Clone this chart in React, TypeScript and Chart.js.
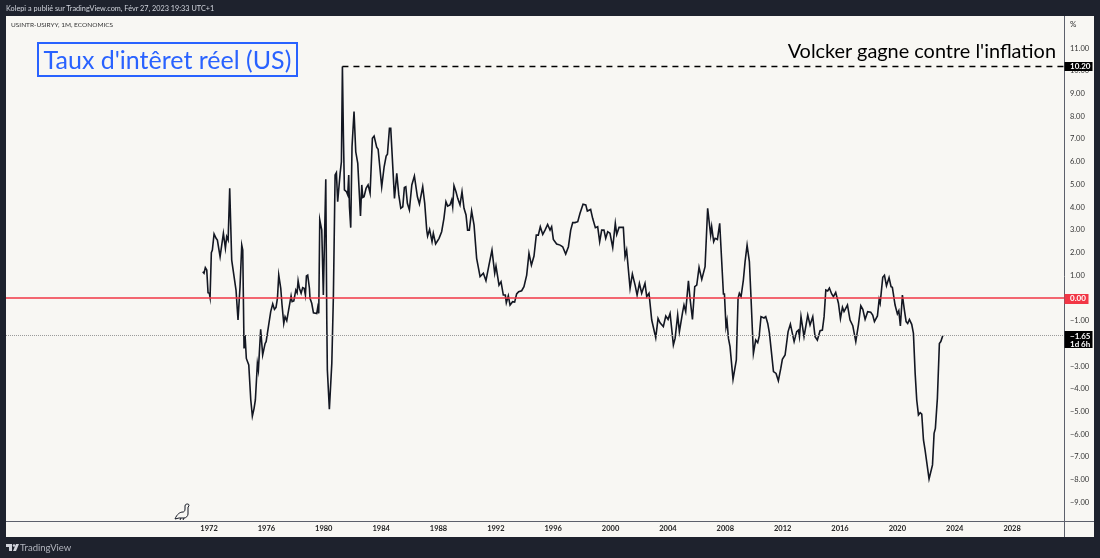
import { useRef, useEffect } from "react";
import Chart from "chart.js/auto";

const years = [
  1971.56, 1971.65, 1971.74, 1971.84, 1971.93, 1972.02, 1972.07, 1972.16, 1972.23, 1972.35, 1972.49, 1972.58, 1972.77, 1973.0, 1973.14, 1973.23, 1973.33, 1973.44, 1973.58, 1973.88,
  1974.02, 1974.16, 1974.28, 1974.35, 1974.44, 1974.51, 1974.6, 1974.77, 1974.91, 1975.02, 1975.14, 1975.23, 1975.37, 1975.44, 1975.6, 1975.74, 1975.91, 1975.98, 1976.14, 1976.3,
  1976.44, 1976.56, 1976.67, 1976.77, 1976.86, 1977.0, 1977.09, 1977.21, 1977.3, 1977.42, 1977.72, 1977.79, 1977.91, 1978.05, 1978.14, 1978.21, 1978.3, 1978.42, 1978.53, 1978.63,
  1978.72, 1978.79, 1978.88, 1979.0, 1979.04, 1979.16, 1979.28, 1979.51, 1979.58, 1979.65, 1979.72, 1979.86, 1979.97, 1980.14, 1980.21, 1980.25, 1980.39, 1980.56, 1980.67, 1980.79,
  1980.88, 1980.97, 1981.14, 1981.23, 1981.3, 1981.37, 1981.44, 1981.58, 1981.67, 1981.74, 1981.79, 1981.88, 1981.97, 1982.11, 1982.23, 1982.37, 1982.56, 1982.65, 1982.72, 1982.81,
  1982.95, 1983.09, 1983.23, 1983.39, 1983.51, 1983.69, 1983.79, 1984.04, 1984.21, 1984.35, 1984.44, 1984.58, 1984.67, 1984.93, 1985.09, 1985.23, 1985.37, 1985.51, 1985.62, 1985.72,
  1985.83, 1985.97, 1986.14, 1986.32, 1986.53, 1986.67, 1986.9, 1987.04, 1987.18, 1987.24, 1987.38, 1987.55, 1987.64, 1987.8, 1988.04, 1988.22, 1988.38, 1988.52, 1988.64, 1988.8,
  1988.92, 1988.99, 1989.08, 1989.22, 1989.34, 1989.5, 1989.64, 1989.78, 1989.92, 1990.03, 1990.15, 1990.31, 1990.48, 1990.66, 1990.9, 1991.13, 1991.31, 1991.52, 1991.73, 1991.92,
  1992.01, 1992.22, 1992.36, 1992.52, 1992.66, 1992.73, 1992.87, 1992.99, 1993.17, 1993.31, 1993.45, 1993.59, 1993.8, 1993.96, 1994.15, 1994.31, 1994.48, 1994.66, 1994.82, 1994.96,
  1995.1, 1995.27, 1995.43, 1995.61, 1995.78, 1995.89, 1996.01, 1996.24, 1996.48, 1996.66, 1996.87, 1997.06, 1997.22, 1997.36, 1997.52, 1997.71, 1997.87, 1998.08, 1998.27, 1998.38,
  1998.61, 1998.75, 1998.94, 1999.1, 1999.24, 1999.38, 1999.54, 1999.66, 1999.8, 1999.96, 2000.15, 2000.33, 2000.43, 2000.59, 2000.89, 2001.01, 2001.12, 2001.36, 2001.52, 2001.71,
  2001.85, 2002.01, 2002.17, 2002.4, 2002.52, 2002.68, 2002.87, 2003.15, 2003.31, 2003.45, 2003.68, 2003.85, 2004.01, 2004.15, 2004.38, 2004.5, 2004.68, 2004.8, 2005.03, 2005.12,
  2005.24, 2005.43, 2005.54, 2005.71, 2005.87, 2006.01, 2006.17, 2006.36, 2006.59, 2006.77, 2006.98, 2007.05, 2007.19, 2007.29, 2007.45, 2007.61, 2007.87, 2007.94, 2008.05, 2008.12,
  2008.22, 2008.33, 2008.54, 2008.77, 2008.89, 2008.98, 2009.1, 2009.26, 2009.38, 2009.52, 2009.68, 2009.77, 2009.96, 2010.12, 2010.26, 2010.36, 2010.49, 2010.7, 2010.82, 2010.96,
  2011.08, 2011.36, 2011.54, 2011.7, 2011.87, 2011.98, 2012.17, 2012.38, 2012.54, 2012.8, 2012.98, 2013.1, 2013.17, 2013.28, 2013.49, 2013.75, 2013.91, 2014.1, 2014.26, 2014.42,
  2014.61, 2014.77, 2014.89, 2015.01, 2015.14, 2015.26, 2015.42, 2015.54, 2015.7, 2015.89, 2016.03, 2016.17, 2016.28, 2016.52, 2016.7, 2016.89, 2017.1, 2017.28, 2017.45, 2017.59,
  2017.75, 2017.93, 2018.14, 2018.28, 2018.4, 2018.61, 2018.73, 2018.8, 2018.98, 2019.1, 2019.24, 2019.42, 2019.56, 2019.65, 2019.84, 2020.0, 2020.1, 2020.21, 2020.35, 2020.49,
  2020.61, 2020.72, 2020.84, 2021.0, 2021.12, 2021.24, 2021.35, 2021.47, 2021.59, 2021.7, 2021.82, 2021.93, 2022.21, 2022.45, 2022.56, 2022.65, 2022.79, 2022.93, 2023.03, 2023.17,
];
const rates = [
  1.16, 1.09, 1.34, 1.23, 0.23, 0.21, 0.03, 2.0, 2.11, 2.82, 2.63, 2.55, 1.82, 2.85, 2.19, 2.7, 2.55, 4.83, 1.67, 0.35,
  -0.97, 0.5, 2.33, 2.11, -2.22, -1.63, -2.66, -2.95, -4.49, -5.2, -4.86, -4.49, -2.88, -3.17, -1.38, -2.51, -2.0, -1.92, -1.26, -0.6,
  -0.26, -0.5, -0.41, -0.01, 1.01, 0.43, -0.31, -1.12, -0.82, -1.0, 0.09, -0.16, -0.13, 0.35, 0.23, 0.76, 0.43, 0.21, 0.46, 0.43,
  0.13, 0.97, 1.01, 0.43, -0.01, -0.23, -0.65, -0.68, -0.41, -0.68, 3.44, 2.99, 0.13, 5.23, -0.97, -3.17, -4.9, -2.88, 0.06, 5.42,
  5.52, 4.24, 5.49, 6.0, 10.2, 7.11, 4.76, 4.68, 4.54, 5.42, 4.02, 3.1, 6.66, 8.21, 6.44, 5.93, 3.61, 4.98, 4.43, 4.46,
  4.83, 4.98, 4.61, 7.03, 7.13, 6.64, 6.55, 4.9, 5.78, 6.25, 6.33, 7.47, 7.47, 4.39, 5.49, 4.54, 3.95, 4.02, 4.87, 4.9,
  4.17, 3.88, 4.98, 5.37, 4.46, 4.14, 4.9, 4.17, 2.99, 2.73, 3.02, 2.48, 2.85, 2.38, 2.63, 2.92, 3.51, 4.24, 4.05, 4.1,
  4.32, 4.02, 4.95, 4.68, 4.39, 4.1, 4.68, 3.95, 3.66, 2.99, 2.99, 3.83, 3.21, 1.75, 0.94, 1.09, 0.76, 1.45, 2.11, 1.09,
  1.41, 0.57, 0.72, 0.13, 0.13, -0.21, 0.1, -0.31, -0.16, -0.18, 0.18, 0.28, 0.32, 0.5, 1.01, 1.97, 1.45, 1.85, 2.77, 2.77,
  3.14, 2.8, 2.99, 3.24, 2.99, 3.14, 2.58, 2.38, 2.33, 2.26, 1.94, 2.26, 2.99, 3.32, 3.32, 3.36, 3.73, 4.13, 4.1, 3.83,
  3.9, 3.51, 3.1, 3.14, 2.48, 2.99, 2.99, 2.63, 2.92, 2.85, 2.22, 3.29, 2.8, 3.11, 3.11, 1.82, 2.11, 0.43, 1.06, 0.57,
  0.13, 0.65, 0.21, 0.65, 0.06, 0.21, -0.97, -1.75, -0.9, -1.09, -1.26, -0.79, -0.94, -0.68, -2.07, -1.78, -0.75, -1.48, -0.6, -0.31,
  -0.6, 0.76, -0.01, -0.94, 0.5, 0.57, 1.35, 0.82, 1.38, 3.95, 2.77, 3.14, 2.48, 2.63, 2.58, 3.29, 0.18, 0.18, -1.26, -1.0,
  -1.78, -2.14, -3.58, -2.73, -0.01, 0.21, 0.06, 0.79, 1.6, 2.33, 1.6, 0.35, -2.44, -1.85, -1.97, -1.7, -0.82, -0.88, -0.82, -1.12,
  -1.56, -3.24, -3.32, -3.64, -3.1, -2.7, -2.51, -1.48, -1.15, -1.92, -1.48, -1.41, -1.7, -0.82, -1.7, -0.75, -1.19, -0.82, -1.7, -1.85,
  -1.44, -1.41, -0.82, 0.35, 0.31, 0.44, 0.18, 0.06, 0.25, -0.23, -0.9, -0.41, -0.6, -0.31, -0.97, -1.22, -1.92, -1.19, -0.34, -0.5,
  -0.94, -0.6, -0.63, -0.75, -1.04, -0.79, -0.06, -0.23, 0.91, 1.0, 0.54, 0.9, 0.5, 0.47, -0.31, -0.7, -0.56, -1.23, 0.13, -0.53,
  -1.04, -1.12, -0.94, -1.16, -1.56, -3.32, -4.49, -5.15, -5.05, -5.11, -6.25, -6.69, -7.97, -7.35, -5.96, -5.74, -4.42, -2.0, -1.92, -1.65,
];

const xStart = 1957.84;
const xEnd = 2031.62;
const yBottom = -9.82;
const yTop = 12.42;
const peakYear = 1981.3;
const peakRate = 10.2;
const lastRate = -1.65;

const PANEL = "#f8f7f3";
const DARK = "#1e222d";
const AXIS = "#5d606b";
const RED = "#f23645";
const FONT = "Lato, sans-serif";

const fmt = (v: number) => (v < 0 ? "\u2212" : "") + Math.abs(v).toFixed(2);

const frame = {
  id: "frame",
  beforeDraw(chart: any) {
    const { ctx, chartArea, scales } = chart;
    ctx.save();
    ctx.fillStyle = PANEL;
    ctx.fillRect(chartArea.left, chartArea.top, scales.y.right - chartArea.left, scales.x.bottom - chartArea.top);
    ctx.restore();
  },
  afterDraw(chart: any) {
    const { ctx, chartArea, scales } = chart;
    const y = scales.y;
    ctx.save();
    ctx.strokeStyle = AXIS;
    ctx.lineWidth = 1;
    ctx.beginPath();
    ctx.moveTo(chartArea.right + 0.5, chartArea.top);
    ctx.lineTo(chartArea.right + 0.5, scales.x.bottom);
    ctx.moveTo(chartArea.left, chartArea.bottom + 0.5);
    ctx.lineTo(y.right, chartArea.bottom + 0.5);
    ctx.stroke();

    // value tags on the price axis
    const tag = (v: number, bg: string, w: number, h: number, sub?: string) => {
      const py = y.getPixelForValue(v);
      ctx.fillStyle = bg;
      ctx.fillRect(chartArea.right + 0.5, Math.round(py - 4.5), w, h);
      ctx.fillStyle = "#ffffff";
      ctx.font = `700 8px ${FONT}`;
      ctx.textAlign = "left";
      ctx.textBaseline = "middle";
      ctx.fillText(fmt(v), chartArea.right + 6, py + 0.5);
      if (sub) ctx.fillText(sub, chartArea.right + 6, py + 8.5);
    };
    tag(peakRate, "#000000", 28, 9);
    tag(0, RED, 24, 10);
    tag(lastRate, "#000000", 28, 17, "1d 6h");

    ctx.fillStyle = "#333333";
    ctx.font = `8px ${FONT}`;
    ctx.textAlign = "left";
    ctx.textBaseline = "middle";
    ctx.fillText("%", chartArea.right + 6, 24);
    ctx.restore();
  },
};

export default function App() {
  const canvasRef = useRef<HTMLCanvasElement | null>(null);

  useEffect(() => {
    if (!canvasRef.current) return;
    const chart = new Chart(canvasRef.current, {
      type: "line",
      data: {
        datasets: [
          {
            data: [{ x: xStart, y: 0 }, { x: xEnd, y: 0 }],
            borderColor: RED,
            borderWidth: 1.5,
            pointRadius: 0,
          },
          {
            data: [{ x: xStart, y: lastRate }, { x: xEnd, y: lastRate }],
            borderColor: "#9a9a9a",
            borderWidth: 1,
            borderDash: [1, 1],
            pointRadius: 0,
          },
          {
            data: [{ x: peakYear, y: peakRate }, { x: xEnd, y: peakRate }],
            borderColor: "#000000",
            borderWidth: 1.5,
            borderDash: [6, 5],
            pointRadius: 0,
          },
          {
            data: years.map((x, i) => ({ x, y: rates[i] })),
            borderColor: "#131722",
            borderWidth: 1.6,
            pointRadius: 0,
            tension: 0,
          },
        ],
      },
      options: {
        responsive: false,
        animation: false,
        layout: { padding: { left: 6, top: 16, right: 6, bottom: 21 } },
        plugins: { legend: { display: false }, title: { display: false }, tooltip: { enabled: false } },
        scales: {
          x: {
            type: "linear",
            min: xStart,
            max: xEnd,
            grid: { display: false, drawTicks: false },
            border: { display: false },
            afterFit: (s: any) => {
              s.height = 16;
            },
            ticks: {
              stepSize: 4,
              includeBounds: false,
              autoSkip: false,
              maxRotation: 0,
              padding: 3,
              color: "#222222",
              font: { family: FONT, size: 7.5, weight: "700" },
              callback: (v: any) => (v >= 1972 && v <= 2028 ? String(v) : ""),
            },
          },
          y: {
            type: "linear",
            position: "right",
            min: yBottom,
            max: yTop,
            grid: { display: false, drawTicks: false },
            border: { display: false },
            afterFit: (s: any) => {
              s.width = 30;
            },
            ticks: {
              stepSize: 1,
              includeBounds: false,
              autoSkip: false,
              padding: 6,
              color: "#333333",
              font: { family: FONT, size: 7.5 },
              callback: (v: any) => (v > 11 ? "" : fmt(v)),
            },
          },
        },
      },
      plugins: [frame],
    } as any);
    return () => chart.destroy();
  }, []);

  return (
    <div style={{ position: "fixed", left: 0, top: 0, width: 1100, height: 558, background: DARK, overflow: "hidden", fontFamily: FONT }}>
      <canvas ref={canvasRef} width={1100} height={558} style={{ display: "block", width: 1100, height: 558 }} />
      <div style={{ position: "absolute", left: 6, top: 3, fontSize: 7.3, lineHeight: "11px", color: "#d1d4dc", whiteSpace: "nowrap" }}>
        Kolepi a publié sur TradingView.com, Févr 27, 2023 19:33 UTC+1
      </div>
      <div style={{ position: "absolute", left: 11, top: 19, fontSize: 6.5, lineHeight: "11px", color: "#333333", whiteSpace: "nowrap" }}>
        USINTR-USIRYY, 1M, ECONOMICS
      </div>
      <div
        style={{
          position: "absolute",
          left: 37,
          top: 42,
          width: 257,
          height: 31,
          border: "2px solid #2962ff",
          color: "#2962ff",
          fontSize: 25,
          lineHeight: "31px",
          textAlign: "center",
          whiteSpace: "nowrap",
        }}
      >
        Taux d'intêret réel (US)
      </div>
      <div style={{ position: "absolute", right: 44, top: 36, fontSize: 19.9, lineHeight: "28px", color: "#000000", whiteSpace: "nowrap" }}>
        Volcker gagne contre l'inflation
      </div>
      {/* dino marker on the first bar of history */}
      <svg style={{ position: "absolute", left: 174, top: 503 }} width={17} height={18} viewBox="0 0 17 18" fill="none" stroke="#131722" strokeWidth={1}>
        <path d="M1 16 C3 11 6 9 9 9 C10 9 11 8 11 6 L11 3 C11 1 13 1 14 1 C15 1 15 3 15 3 L14 4 L14 11 C14 13 12 15 10 15 L9 17 M7 15 L6 17 M1 16 L5 15 L10 15" />
      </svg>
      {/* footer logo */}
      <svg style={{ position: "absolute", left: 6, top: 544 }} width={13} height={8} viewBox="0 0 13 8" fill="#d1d4dc">
        <path d="M0 0 H6 V7 H3 V3 H0 Z" />
        <circle cx={8} cy={1.5} r={1.3} />
        <path d="M10 0 H13 L10 7 H7 Z" />
      </svg>
      <div style={{ position: "absolute", left: 20, top: 541, fontSize: 9.5, lineHeight: "13px", color: "#b2b5be" }}>TradingView</div>
    </div>
  );
}
